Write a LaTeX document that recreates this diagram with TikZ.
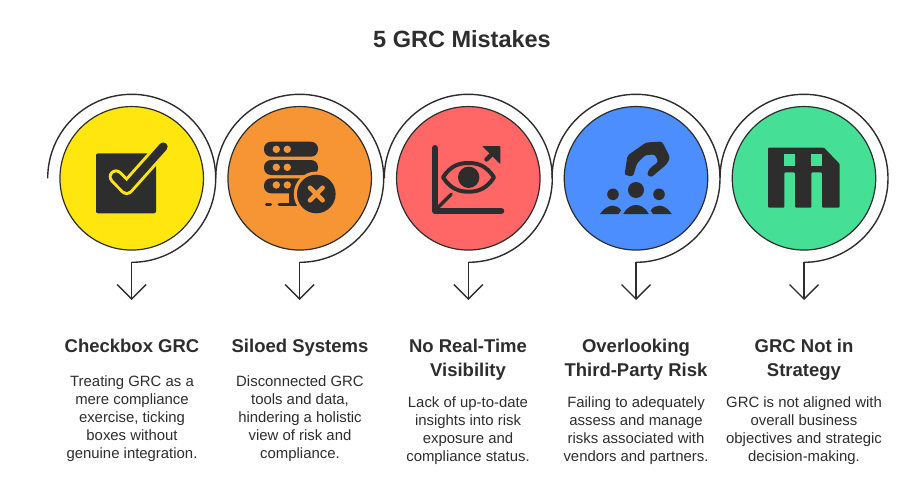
\documentclass[tikz,border=0pt]{standalone}
\usepackage{fontspec}
\setmainfont{Liberation Sans}
\usetikzlibrary{arrows.meta,positioning}
\definecolor{inkc}{HTML}{2D2D2D}
\definecolor{yelc}{HTML}{FFE60F}
\definecolor{orac}{HTML}{F79535}
\definecolor{redc}{HTML}{FF6666}
\definecolor{bluc}{HTML}{4D8EFF}
\definecolor{grnc}{HTML}{45DF95}
\tikzset{
  disc/.style={circle,draw=inkc,line width=1.2pt,minimum size=143.5pt,inner sep=0pt},
  ring/.style={draw=inkc,line width=1.4pt},
  drop/.style={draw=inkc,line width=1.4pt,-{Straight Barb[length=14.5pt,width=29pt]}},
  headtext/.style={anchor=north,inner sep=0pt,align=center,text=inkc,font=\fontsize{18.5}{24}\selectfont\bfseries},
  bodytext/.style={anchor=north,inner sep=0pt,align=center,text=inkc,font=\fontsize{14.9}{18}\selectfont},
}
\begin{document}
\begin{tikzpicture}[x=1pt,y=-1pt]
\useasboundingbox (0,0) rectangle (924,490);
\node (title) [inner sep=0pt,text=inkc,font=\fontsize{23.5}{28}\selectfont\bfseries] at (462,39) {5 GRC Mistakes};
% discs
\node (c1) [disc,fill=yelc] at (131.7,178.3) {};
\node (c2) [disc,fill=orac] at (299.7,178.3) {};
\node (c3) [disc,fill=redc] at (468.3,178.3) {};
\node (c4) [disc,fill=bluc] at (636,178.3) {};
\node (c5) [disc,fill=grnc] at (804,178.3) {};
% rings and drops
\coordinate (s1) at (47.7,178.3);
\coordinate (s2) at (215.7,178.3);
\coordinate (s3) at (384.3,178.3);
\coordinate (s4) at (552,178.3);
\coordinate (s5) at (720,178.3);
\coordinate (t1) at (131.7,300);
\coordinate (t2) at (299.7,300);
\coordinate (t3) at (468.3,300);
\coordinate (t4) at (636,300);
\coordinate (t5) at (804,300);
\draw[ring] (s1) arc[start angle=180,end angle=450,radius=84] coordinate (b1);
\draw[ring] (s2) arc[start angle=180,end angle=450,radius=84] coordinate (b2);
\draw[ring] (s3) arc[start angle=180,end angle=450,radius=84] coordinate (b3);
\draw[ring] (s4) arc[start angle=180,end angle=450,radius=84] coordinate (b4);
\draw[ring] (s5) arc[start angle=180,end angle=450,radius=84] coordinate (b5);
\draw[drop] (b1) -- (t1);
\draw[drop] (b2) -- (t2);
\draw[drop] (b3) -- (t3);
\draw[drop] (b4) -- (t4);
\draw[drop] (b5) -- (t5);
% checkbox
\fill[inkc,rounded corners=2pt] (96,153.3) rectangle (156,213.3);
\draw[yelc,line width=14.6pt,line cap=round,line join=round] (116,176.7) -- (126.7,187.7) -- (163.3,146.7);
\draw[inkc,line width=8.7pt,line cap=round,line join=round] (116,176.7) -- (126.7,187.7) -- (163.3,146.7);
% servers
\fill[inkc,rounded corners=7pt] (264,141.7) rectangle (318,156.7);
\fill[inkc,rounded corners=7pt] (264,160) rectangle (318,175);
\fill[inkc,rounded corners=7pt] (264,178.3) rectangle (312,193.3);
\fill[orac] (276.3,149.3) circle[radius=3.7] (287.3,149.3) circle[radius=3.7];
\fill[orac] (276.3,167.3) circle[radius=3.7] (287.3,167.3) circle[radius=3.7];
\fill[orac] (276.3,185) circle[radius=3.7] (287.3,185) circle[radius=3.7];
\draw[inkc,line width=3.4pt,line cap=round] (266.5,204.3) -- (270.5,204.3);
\draw[inkc,line width=3pt,line cap=round] (279,204.5) -- (296,204.5);
\fill[inkc] (288.7,190) rectangle (298,205.5);
\fill[orac] (316.3,194) circle[radius=22.5];
\fill[inkc] (316.3,194) circle[radius=19.3];
\draw[orac,line width=4.6pt,line cap=round] (310,187.7) -- (322.6,200.3) (322.6,187.7) -- (310,200.3);
% chart and eye
\draw[inkc,line width=6pt,line cap=round,line join=round] (435,148) -- (435,211) -- (501.3,211);
\draw[inkc,line width=3.3pt,line cap=round] (438.7,206.7) -- (451.3,194.3);
\draw[inkc,line width=4.4pt,line cap=round] (486.5,159.5) -- (495,151);
\fill[inkc,rounded corners=1pt] (482,146) -- (500.3,146) -- (500.3,164.3) -- cycle;
\draw[inkc,line width=4pt,line join=round] (443,177.3) .. controls (451,165) and (460,163) .. (468.7,163) .. controls (477,163) and (486,165) .. (494,177.3) .. controls (486,189.6) and (477,191.7) .. (468.7,191.7) .. controls (460,191.7) and (451,189.6) .. (443,177.3) -- cycle;
\fill[inkc] (468.7,177.3) circle[radius=10.7];
% hook and people
\fill[inkc,rounded corners=2.5pt] (624.5,175) -- (627.5,155.5) -- (646,142.5) -- (662,141.5) -- (670,157.5) -- (667,164) -- (651,177.5) -- (646.7,174.5) -- (650,168) -- (658.3,162) -- (655,154.5) -- (645.5,155) -- (637,163.3) -- (633,176.5) -- cycle;
\fill[inkc] (636,190) circle[radius=8];
\fill[inkc] (613,194.3) circle[radius=5.8];
\fill[inkc] (659,194.3) circle[radius=5.8];
\fill[inkc] (623.3,214) .. controls (627,207) and (632,205) .. (636,205) .. controls (640,205) and (645,207) .. (648.7,214) -- cycle;
\fill[inkc] (600,214) .. controls (604,208) and (609,205.7) .. (613,205.7) .. controls (616,205.7) and (619,207) .. (621,210.5) -- (618.5,214) -- cycle;
\fill[inkc] (671.7,214) .. controls (668,208) and (663,205.7) .. (659,205.7) .. controls (656,205.7) and (653,207) .. (650.7,210.5) -- (653,214) -- cycle;
% floppy
\fill[inkc,rounded corners=1pt] (768,147.7) -- (824,147.7) -- (839.7,164) -- (839.7,207.7) -- (822,207.7) -- (822,172.3) -- (811.3,172.3) -- (811.3,207.7) -- (795,207.7) -- (795,172.3) -- (784.3,172.3) -- (784.3,207.7) -- (768,207.7) -- cycle;
\fill[grnc] (784.3,154) rectangle (795,166);
\fill[grnc] (811.3,154) rectangle (822,166);
% labels
\node (h1) [headtext] at (132,339) {Checkbox GRC};
\node (h2) [headtext] at (300,339) {Siloed Systems};
\node (h3) [headtext] at (468,339) {No Real-Time\\Visibility};
\node (h4) [headtext] at (636,339) {Overlooking\\Third-Party Risk};
\node (h5) [headtext] at (804,339) {GRC Not in\\Strategy};
\node (d1) [bodytext] at (132,375) {Treating GRC as a\\mere compliance\\exercise, ticking\\boxes without\\genuine integration.};
\node (d2) [bodytext] at (300,375) {Disconnected GRC\\tools and data,\\hindering a holistic\\view of risk and\\compliance.};
\node (d3) [bodytext] at (468,396) {Lack of up-to-date\\insights into risk\\exposure and\\compliance status.};
\node (d4) [bodytext] at (636,396) {Failing to adequately\\assess and manage\\risks associated with\\vendors and partners.};
\node (d5) [bodytext] at (804,396) {GRC is not aligned with\\overall business\\objectives and strategic\\decision-making.};
\end{tikzpicture}
\end{document}
